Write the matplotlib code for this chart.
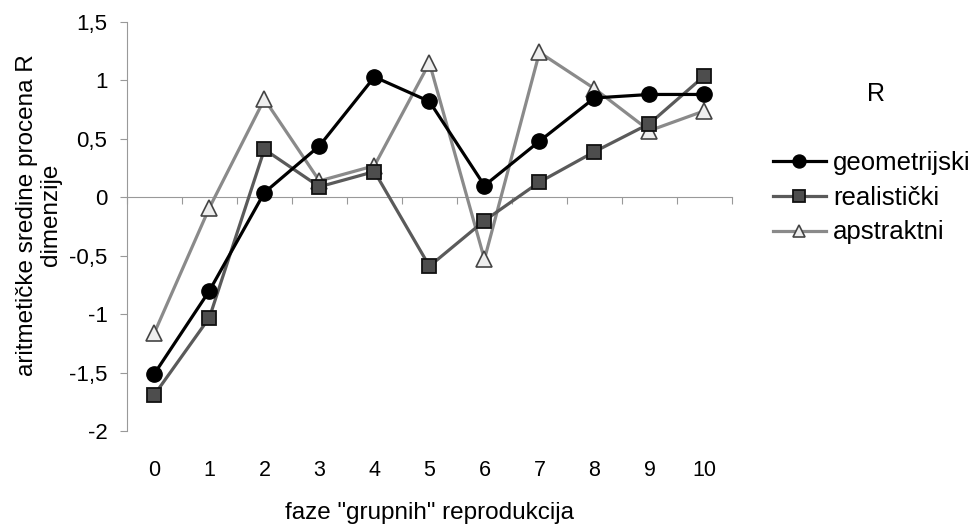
"""Aritmetičke sredine procena R dimenzije po fazama grupnih reprodukcija."""
import matplotlib
matplotlib.use("Agg")
import matplotlib.pyplot as plt
import numpy as np
from matplotlib.ticker import FuncFormatter, FixedLocator

plt.rcParams["font.family"] = ["Liberation Sans", "DejaVu Sans"]

phases = [0, 1, 2, 3, 4, 5, 6, 7, 8, 9, 10]
geometrijski = [-1.51, -0.80, 0.04, 0.44, 1.03, 0.82, 0.10, 0.48, 0.85, 0.88, 0.88]
realisticki = [-1.69, -1.03, 0.41, 0.09, 0.22, -0.59, -0.20, 0.13, 0.39, 0.63, 1.04]
apstraktni = [-1.16, -0.09, 0.84, 0.14, 0.27, 1.15, -0.53, 1.24, 0.93, 0.57, 0.74]
y_ticks = [-2, -1.5, -1, -0.5, 0, 0.5, 1, 1.5]

fig = plt.figure(figsize=(9.76, 5.24), dpi=100)
ax = fig.add_axes([0.130, 0.1775, 0.620, 0.7805])

x = np.arange(len(phases))
l1, = ax.plot(x, geometrijski, color="black", lw=2.3, marker="o", ms=11,
              mfc="black", mec="black", label="geometrijski", zorder=5)
l2, = ax.plot(x, realisticki, color="#5a5a5a", lw=2.3, marker="s", ms=10,
              mfc="#4d4d4d", mec="#111111", mew=1.3, label="realistički", zorder=4)
l3, = ax.plot(x, apstraktni, color="#8a8a8a", lw=2.3, marker="^", ms=11,
              mfc="#eeeeee", mec="#444444", mew=1.2, label="apstraktni", zorder=3)

ax.set_xlim(-0.5, len(phases) - 0.5)
ax.set_ylim(-2, 1.5)

# category axis crosses at zero, ticks between categories
for s in ["top", "right"]:
    ax.spines[s].set_visible(False)
ax.spines["bottom"].set_position(("data", 0))
ax.spines["bottom"].set_color("#999999")
ax.spines["left"].set_color("#999999")
ax.xaxis.set_major_locator(FixedLocator(np.arange(len(phases) + 1) - 0.5))
ax.tick_params(axis="x", direction="out", length=5, color="#999999",
               labelbottom=False)

sec = ax.secondary_xaxis("bottom")
sec.spines["bottom"].set_visible(False)
sec.set_xticks(x)
sec.set_xticklabels([str(p) for p in phases])
sec.tick_params(length=0, pad=21, labelsize=15.5)
sec.set_xlabel('faze "grupnih" reprodukcija', fontsize=17.5, labelpad=15)

ax.set_yticks(y_ticks)
ax.yaxis.set_major_formatter(
    FuncFormatter(lambda v, p: f"{v:g}".replace(".", ","))
)
ax.tick_params(axis="y", direction="out", length=5, color="#999999",
               labelsize=16, pad=9)
ax.set_ylabel("aritmetičke sredine procena R\ndimenzije", fontsize=17.5,
              linespacing=1.1)
ax.yaxis.set_label_coords(-0.107, 0.528)

fig.text(0.898, 0.820, "R", fontsize=18, ha="center", va="center")
fig.legend(handles=[l1, l2, l3], loc="upper left",
           bbox_to_anchor=(0.792, 0.712), frameon=False, fontsize=18.5,
           handlelength=2.05, handletextpad=0.3, labelspacing=0.42,
           markerscale=0.85, borderaxespad=0, borderpad=0)

fig.savefig("out.png", dpi=100)
